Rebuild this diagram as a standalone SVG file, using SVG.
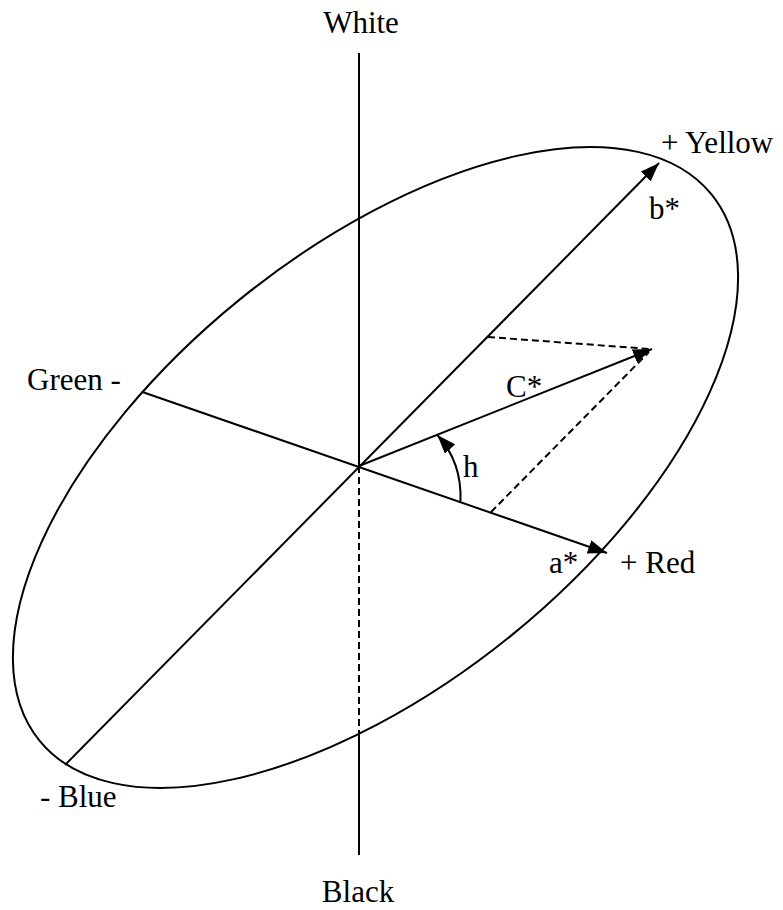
<svg xmlns="http://www.w3.org/2000/svg" width="783" height="910" viewBox="0 0 783 910">
<style>
.ln{stroke:#000;stroke-width:2;fill:none}
.ds{stroke:#000;stroke-width:2;fill:none;stroke-dasharray:7 4}
.t{font-family:'Liberation Serif','Times New Roman',serif;font-size:31px;fill:#000}
</style>
<defs>
<marker id="ah" markerUnits="userSpaceOnUse" markerWidth="20" markerHeight="14" refX="19" refY="7" orient="auto">
<path d="M0,0 L19,7 L0,14 z" fill="#000"/>
</marker>
</defs>
<rect width="783" height="910" fill="#fff"/>
<g id="ellipse">
<ellipse cx="375.5" cy="467.5" rx="433" ry="216" transform="rotate(-39.1 375.5 467.5)" class="ln"/>
</g>
<g id="connectors">
<line x1="359" y1="53" x2="359" y2="466" class="ln"/>
<line x1="359" y1="466" x2="359" y2="735" class="ds"/>
<line x1="359" y1="735" x2="359" y2="855" class="ln"/>
<line x1="65" y1="765" x2="659" y2="163" class="ln" marker-end="url(#ah)"/>
<line x1="141.7" y1="391.7" x2="607" y2="553" class="ln" marker-end="url(#ah)"/>
<line x1="359" y1="466" x2="652" y2="349" class="ln" marker-end="url(#ah)"/>
<line x1="488" y1="337" x2="650" y2="349" class="ds"/>
<line x1="491" y1="512" x2="649" y2="352" class="ds"/>
<path d="M460.5,501.5 Q462,462 437.3,435" class="ln" marker-end="url(#ah)"/>
</g>
<g id="labels" font-family="Liberation Serif, serif" font-size="31">
<text class="t" x="361" y="33" text-anchor="middle">White</text>
<text class="t" x="358" y="902" text-anchor="middle">Black</text>
<text class="t" x="661" y="153">+ Yellow</text>
<text class="t" x="649" y="219">b*</text>
<text class="t" x="506" y="397">C*</text>
<text class="t" x="463" y="477">h</text>
<text class="t" x="549" y="573">a*</text>
<text class="t" x="620" y="573">+ Red</text>
<text class="t" x="27" y="390">Green -</text>
<text class="t" x="40" y="807">- Blue</text>
</g>
</svg>
